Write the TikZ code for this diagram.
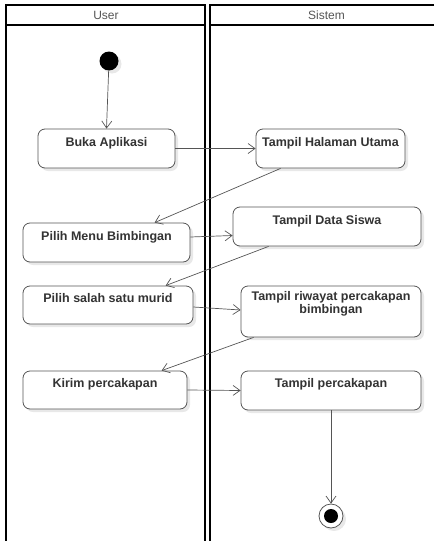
\documentclass[tikz,border=0pt]{standalone}
\usepackage{fontspec}
\setmainfont{Liberation Sans}
\usetikzlibrary{arrows.meta,shadows,calc}
\definecolor{edge}{HTML}{555555}
\definecolor{txt}{HTML}{333333}
\begin{document}
\begin{tikzpicture}[x=1pt,y=-1pt,
  lane/.style={line width=1.6pt, draw=black},
  act/.style={draw=edge, line width=0.8pt, rounded corners=7pt, fill=white,
    drop shadow={shadow xshift=3pt,shadow yshift=-3pt,fill=black!9,opacity=1}, inner sep=0pt},
  lbl/.style={font=\bfseries\fontsize{12.5}{10.5}\selectfont, text=txt, align=center, anchor=base, inner sep=0pt},
  flow/.style={draw=edge, line width=0.7pt, -{Straight Barb[length=7pt,width=10pt]}},
  hdr/.style={font=\fontsize{12}{14}\selectfont, text=edge}]
\useasboundingbox (0,0) rectangle (434,541);
% swimlanes
\draw[lane] (6,541) -- (6,5) -- (205,5) -- (205,541);
\draw[lane] (6,25) -- (205,25);
\draw[lane] (434,5) -- (210,5) -- (210,541);
\draw[lane] (210,25) -- (434,25);
\node[hdr] (h1) at (106,15) {User};
\node[hdr] (h2) at (326.5,15) {Sistem};
% start / end
\node[circle, fill=black, minimum size=19pt, inner sep=0pt,
  drop shadow={shadow xshift=3pt,shadow yshift=-3pt,fill=black!9,opacity=1}] (start) at (109,61) {};
\node[circle, draw=edge, fill=white, line width=0.8pt, minimum size=24pt, inner sep=0pt,
  drop shadow={shadow xshift=3pt,shadow yshift=-3pt,fill=black!9,opacity=1}] (fin) at (331,516) {};
\node[circle, fill=black, minimum size=14pt, inner sep=0pt] (finin) at (fin.center) {};
% activities
\node[act, minimum width=137pt, minimum height=39pt] (b1) at (106.5,148.5) {};
\node[act, minimum width=149pt, minimum height=39pt] (b2) at (330.5,148.5) {};
\node[act, minimum width=167pt, minimum height=39pt] (b3) at (106.5,242.5) {};
\node[act, minimum width=188pt, minimum height=39pt] (b4) at (327,226.5) {};
\node[act, minimum width=170pt, minimum height=38pt] (b5) at (108,305) {};
\node[act, minimum width=180pt, minimum height=51pt] (b6) at (331,311.5) {};
\node[act, minimum width=164pt, minimum height=38pt] (b7) at (105,390) {};
\node[act, minimum width=180pt, minimum height=39pt] (b8) at (331,390.5) {};
\node[lbl] (t1) at ($(b1.north)+(0,17.5)$) {Buka Aplikasi};
\node[lbl] (t2) at ($(b2.north)+(0,17.5)$) {Tampil Halaman Utama};
\node[lbl] (t3) at ($(b3.north)+(0,17.5)$) {Pilih Menu Bimbingan};
\node[lbl] (t4) at ($(b4.north)+(0,17.5)$) {Tampil Data Siswa};
\node[lbl] (t5) at ($(b5.north)+(0,17)$) {Pilih salah satu murid};
\node[lbl] (t6) at ($(b6.north)+(0,27.5)$) {Tampil riwayat percakapan\\bimbingan};
\node[lbl] (t7) at ($(b7.north)+(0,17)$) {Kirim percakapan};
\node[lbl] (t8) at ($(b8.north)+(0,17)$) {Tampil percakapan};
% flows
\draw[flow] (start) -- (b1.north);
\draw[flow] (b1.east) -- (b2.west);
\draw[flow] ($(b2.south west)+(25,0)$) -- ($(b3.north west)+(132,0)$);
\draw[flow] ($(b3.east)+(0,-5.5)$) -- ($(b4.west)+(0,9)$);
\draw[flow] ($(b4.south west)+(36,0)$) -- ($(b5.north west)+(143,0)$);
\draw[flow] ($(b5.east)+(0,2)$) -- ($(b6.west)+(0,-1.5)$);
\draw[flow] ($(b6.south west)+(13,0)$) -- ($(b7.north west)+(139,0)$);
\draw[flow] (b7.east) -- (b8.west);
\draw[flow] (b8.south) -- (fin.north);
\end{tikzpicture}
\end{document}
